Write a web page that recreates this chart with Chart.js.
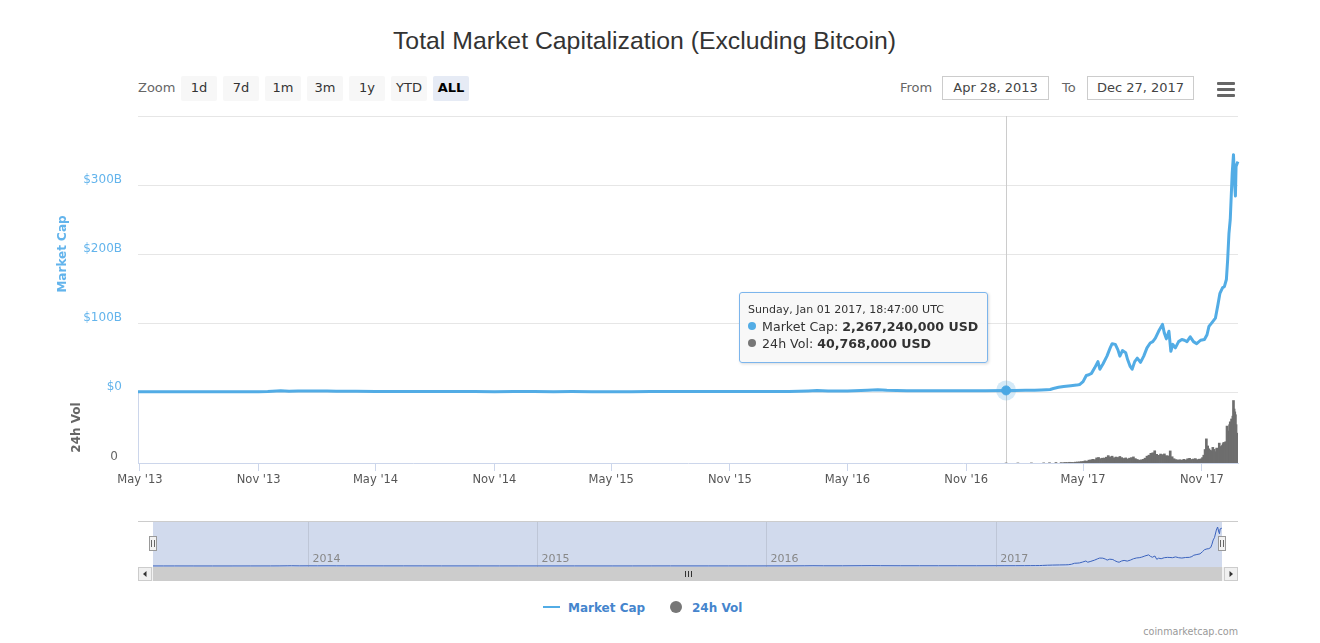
<!DOCTYPE html>
<html>
<head>
<meta charset="utf-8">
<script src="https://cdn.jsdelivr.net/npm/chart.js@4.4.1/dist/chart.umd.min.js"></script>
<style>
html,body{margin:0;padding:0;background:#fff;}
body{width:1320px;height:643px;position:relative;overflow:hidden;font-family:'DejaVu Sans',sans-serif;}
.abs{position:absolute;}
#title{left:0;width:1289px;top:26px;height:30px;line-height:30px;text-align:center;font-family:'Liberation Sans',Arial,sans-serif;font-size:24.8px;color:#333;white-space:nowrap;}
.lbl{top:78px;height:20px;line-height:20px;font-size:13px;color:#666;}
.btn{top:76px;width:36px;height:25px;line-height:24px;text-align:center;font-size:13px;color:#333;background:#f7f7f7;border-radius:2px;}
.btn.sel{background:#e6ebf5;color:#000;font-weight:bold;}
.inp{top:76px;width:105px;height:22px;line-height:22px;border:1px solid #cccccc;text-align:center;font-size:13px;color:#444;}
.bar3{left:1217px;width:18px;height:3px;background:#666;border-radius:1px;}
#tip{display:none;background:rgba(247,247,247,0.9);border:1px solid #7cb5ec;border-radius:3px;padding:9px 9px 10px 8px;box-shadow:1px 1px 3px rgba(0,0,0,0.15);white-space:nowrap;color:#333;}
#tip .th{font-size:11px;line-height:16px;}
#tip .tr{font-size:12.6px;line-height:17px;}
#tip .dot{display:inline-block;width:8px;height:8px;border-radius:50%;margin-right:6px;position:relative;top:-1px;}
.leg{top:598px;height:20px;line-height:20px;font-size:12px;font-weight:bold;color:#4585cd;}
#credit{right:82px;top:626px;font-size:9.6px;color:#999;}
</style>
</head>
<body>
<div id="title" class="abs">Total Market Capitalization (Excluding Bitcoin)</div>

<div class="abs lbl" style="left:138px;">Zoom</div>
<div class="abs btn" style="left:181px;">1d</div>
<div class="abs btn" style="left:223px;">7d</div>
<div class="abs btn" style="left:265px;">1m</div>
<div class="abs btn" style="left:307px;">3m</div>
<div class="abs btn" style="left:349px;">1y</div>
<div class="abs btn" style="left:391px;">YTD</div>
<div class="abs btn sel" style="left:433px;">ALL</div>

<div class="abs lbl" style="left:900px;top:78px;">From</div>
<div class="abs inp" style="left:942px;">Apr 28, 2013</div>
<div class="abs lbl" style="left:1062px;top:78px;">To</div>
<div class="abs inp" style="left:1087px;">Dec 27, 2017</div>
<div class="abs bar3" style="top:82px;"></div>
<div class="abs bar3" style="top:88px;"></div>
<div class="abs bar3" style="top:94px;"></div>

<div class="abs" style="left:0;top:100px;width:1320px;height:400px;"><canvas id="main" width="1320" height="400"></canvas></div>
<div class="abs" style="left:0;top:510px;width:1320px;height:80px;"><canvas id="nav" width="1320" height="80"></canvas></div>

<div id="tip" class="abs"></div>

<div class="abs" style="left:543px;top:606px;width:17px;height:2px;background:#52ace5;"></div>
<div class="abs leg" style="left:568px;">Market Cap</div>
<div class="abs" style="left:670px;top:601px;width:12px;height:12px;border-radius:50%;background:#777;"></div>
<div class="abs leg" style="left:692px;">24h Vol</div>
<div id="credit" class="abs">coinmarketcap.com</div>

<script>
// ---------------- DATA ----------------
const rangeStart = '2013-04-28';
const rangeEnd = '2017-12-27';

// Market cap (excluding Bitcoin), billions USD
const mcDates = [
'2013-04-28','2013-05-15','2013-06-01','2013-07-01','2013-08-01','2013-09-01','2013-10-01','2013-11-01','2013-11-15','2013-11-29','2013-12-05','2013-12-18',
'2014-01-01','2014-01-15','2014-02-01','2014-02-15','2014-03-01','2014-04-01','2014-05-01','2014-06-01','2014-07-01','2014-08-01','2014-09-01','2014-10-01','2014-11-01','2014-12-01',
'2015-01-01','2015-02-01','2015-03-01','2015-04-01','2015-05-01','2015-06-01','2015-07-01','2015-08-01','2015-09-01','2015-10-01','2015-11-01','2015-12-01',
'2016-01-01','2016-02-01','2016-03-01','2016-03-15','2016-04-01','2016-05-01','2016-06-01','2016-06-17','2016-07-01','2016-08-01','2016-09-01','2016-10-01','2016-11-01','2016-12-01',
'2017-01-01T18:47:00Z','2017-01-15','2017-02-01','2017-02-15','2017-02-25','2017-03-05','2017-03-11','2017-03-16','2017-03-24','2017-04-01','2017-04-12','2017-04-21','2017-04-26',
'2017-05-01','2017-05-06','2017-05-10','2017-05-14','2017-05-19','2017-05-24','2017-05-27','2017-06-01','2017-06-07','2017-06-12','2017-06-15','2017-06-20','2017-06-24','2017-06-27',
'2017-07-01','2017-07-06','2017-07-09','2017-07-13','2017-07-16','2017-07-20','2017-07-24','2017-07-29','2017-08-03','2017-08-08','2017-08-13','2017-08-17','2017-08-21','2017-08-26',
'2017-09-01','2017-09-04','2017-09-07','2017-09-11','2017-09-14','2017-09-17','2017-09-21','2017-09-26','2017-10-01','2017-10-05','2017-10-09','2017-10-14','2017-10-19','2017-10-24','2017-10-30',
'2017-11-05','2017-11-09','2017-11-12','2017-11-17','2017-11-22','2017-11-26','2017-11-29','2017-12-03','2017-12-06','2017-12-09','2017-12-11','2017-12-13','2017-12-15','2017-12-18',
'2017-12-20','2017-12-22','2017-12-23','2017-12-24','2017-12-26','2017-12-27'
];
const mcValues = [
0.35,0.32,0.28,0.22,0.20,0.21,0.24,0.40,0.70,1.6,1.9,1.1,
1.4,1.3,1.5,1.3,1.1,0.95,0.85,0.80,0.75,0.65,0.60,0.55,0.50,0.60,
0.65,0.50,0.55,0.50,0.50,0.50,0.60,0.70,0.60,0.55,0.60,0.60,
0.70,0.90,1.6,2.2,1.6,1.5,2.5,3.1,2.5,1.9,1.9,1.8,1.9,1.8,
2.26724,2.3,2.4,2.7,3.0,3.3,3.6,5.0,6.8,8.0,9.2,10,11,
15,24,25,27,35,44,33,41,52,64,70,69,61,52,
60,57,47,37,33,44,49,43,52,64,71,73,78,88,
98,85,77,88,59,69,64,73,76,75,73,80,73,70,75,
76,83,95,101,107,127,143,151,153,163,192,230,250,317,
344,298,284,327,332,334
];

// 24h volume, billions USD
const volDates = [
'2017-01-01T18:47:00Z','2017-01-20','2017-02-10','2017-03-01','2017-03-10','2017-03-20','2017-03-28',
'2017-04-01','2017-04-04','2017-04-07','2017-04-10','2017-04-13','2017-04-16','2017-04-19','2017-04-22','2017-04-25','2017-04-28',
'2017-05-01','2017-05-04','2017-05-07','2017-05-10','2017-05-13','2017-05-16','2017-05-19','2017-05-22','2017-05-25','2017-05-28','2017-05-31',
'2017-06-03','2017-06-06','2017-06-09','2017-06-12','2017-06-15','2017-06-18','2017-06-21','2017-06-24','2017-06-27','2017-06-30',
'2017-07-03','2017-07-06','2017-07-09','2017-07-12','2017-07-15','2017-07-18','2017-07-21','2017-07-24','2017-07-27','2017-07-30',
'2017-08-02','2017-08-05','2017-08-08','2017-08-11','2017-08-14','2017-08-17','2017-08-20','2017-08-23','2017-08-26','2017-08-29',
'2017-09-01','2017-09-04','2017-09-07','2017-09-10','2017-09-13','2017-09-16','2017-09-19','2017-09-22','2017-09-25','2017-09-28',
'2017-10-01','2017-10-04','2017-10-07','2017-10-10','2017-10-13','2017-10-16','2017-10-19','2017-10-22','2017-10-25','2017-10-28','2017-10-31',
'2017-11-02','2017-11-04','2017-11-06','2017-11-08','2017-11-10','2017-11-12','2017-11-14','2017-11-16','2017-11-18','2017-11-20','2017-11-22','2017-11-24','2017-11-26','2017-11-28','2017-11-30',
'2017-12-01','2017-12-02','2017-12-03','2017-12-04','2017-12-05','2017-12-06','2017-12-07','2017-12-08','2017-12-09','2017-12-10','2017-12-11','2017-12-12','2017-12-13','2017-12-14',
'2017-12-15','2017-12-16','2017-12-17','2017-12-18','2017-12-19','2017-12-20','2017-12-21','2017-12-22','2017-12-23','2017-12-24','2017-12-25','2017-12-26','2017-12-27'
];
const volValues = [
0.040768,0.05,0.07,0.10,0.20,0.35,0.30,
0.30,0.40,0.35,0.50,0.45,0.40,0.60,0.70,0.80,1.0,
1.1,1.5,1.3,2.0,2.2,2.6,2.4,3.6,3.9,3.1,3.4,
3.5,4.1,5.2,4.3,4.8,3.7,4.2,3.9,4.6,3.8,
3.2,3.6,2.9,3.4,3.8,4.3,3.1,2.5,2.0,2.2,
2.6,3.4,4.8,5.5,6.8,7.2,8.6,6.1,5.4,6.3,
5.9,6.4,5.2,5.0,8.5,4.4,3.0,2.4,2.1,2.3,
2.0,2.6,2.2,3.0,3.3,2.5,2.8,3.1,2.4,2.7,2.9,
3.8,5.5,9.5,17,12,10,9,8.5,11,9.6,8,10.5,9.8,14,11.5,
10.2,11.8,12.5,13.6,14.5,13.2,12.1,15.0,14.2,26,22,21,22.5,27,
29,25,31,28,33,44,38,36,34,27,21,20,19
];

// Axis ticks
const xTickDates = ['2013-05-01','2013-11-01','2014-05-01','2014-11-01','2015-05-01','2015-11-01','2016-05-01','2016-11-01','2017-05-01','2017-11-01'];
const mcTicks = [0, 100, 200, 300, 400];
const volTicks = [0];
const navTickDates = ['2014-01-01','2015-01-01','2016-01-01','2017-01-01'];
const tooltipDate = '2017-01-01T18:47:00Z';

// ---------------- HELPERS ----------------
const MONTHS = ['Jan','Feb','Mar','Apr','May','Jun','Jul','Aug','Sep','Oct','Nov','Dec'];
const DAYS = ['Sunday','Monday','Tuesday','Wednesday','Thursday','Friday','Saturday'];
const toMs = d => Date.parse(d.length === 10 ? d + 'T00:00:00Z' : d);
const pad2 = n => (n < 10 ? '0' : '') + n;
const groupDigits = n => String(Math.round(n)).replace(/\B(?=(\d{3})+(?!\d))/g, ',');
const fmtFull = ms => { const d = new Date(ms); return DAYS[d.getUTCDay()] + ', ' + MONTHS[d.getUTCMonth()] + ' ' + pad2(d.getUTCDate()) + ' ' + d.getUTCFullYear() + ', ' + pad2(d.getUTCHours()) + ':' + pad2(d.getUTCMinutes()) + ':' + pad2(d.getUTCSeconds()) + ' UTC'; };
const fmtTick = ms => { const d = new Date(ms); return MONTHS[d.getUTCMonth()] + " '" + String(d.getUTCFullYear()).slice(2); };

const mcPoints = mcDates.map((d, i) => ({x: toMs(d), y: mcValues[i]}));
const volPoints = volDates.map((d, i) => ({x: toMs(d), y: volValues[i]}));
const xMin = toMs(rangeStart), xMax = toMs(rangeEnd);

Chart.defaults.font.family = "'DejaVu Sans', sans-serif";
const MC_COLOR = '#52ace5';

// ---------------- MAIN CHART ----------------
const crosshair = {
  id: 'crosshair',
  beforeDatasetsDraw(chart) {
    const act = chart.tooltip.getActiveElements();
    if (!act.length) return;
    const el = chart.getDatasetMeta(act[0].datasetIndex).data[act[0].index];
    const {ctx, chartArea} = chart;
    ctx.save();
    ctx.strokeStyle = '#cccccc';
    ctx.lineWidth = 1;
    const x = Math.round(el.x) + 0.5;
    ctx.beginPath(); ctx.moveTo(x, chartArea.top); ctx.lineTo(x, chartArea.bottom); ctx.stroke();
    ctx.fillStyle = 'rgba(82,172,229,0.25)';
    ctx.beginPath(); ctx.arc(el.x, el.y, 10, 0, Math.PI * 2); ctx.fill();
    ctx.restore();
  }
};

function externalTip(context) {
  const tt = context.tooltip;
  const div = document.getElementById('tip');
  if (!tt || tt.opacity === 0 || !tt.dataPoints || !tt.dataPoints.length) { div.style.display = 'none'; return; }
  const mcP = tt.dataPoints.find(p => p.datasetIndex === 0);
  const vP = tt.dataPoints.find(p => p.datasetIndex === 1);
  let html = '<div class="th">' + fmtFull(mcP.parsed.x) + '</div>';
  html += '<div class="tr"><span class="dot" style="background:' + MC_COLOR + '"></span>Market Cap: <b>' + groupDigits(mcP.parsed.y * 1e9) + ' USD</b></div>';
  if (vP) html += '<div class="tr"><span class="dot" style="background:#777"></span>24h Vol: <b>' + groupDigits(vP.parsed.y * 1e9) + ' USD</b></div>';
  div.innerHTML = html;
  div.style.display = 'block';
  const cv = context.chart.canvas.parentNode;
  const px = mcP.element.x, py = mcP.element.y;
  div.style.left = (cv.offsetLeft + px - 18 - div.offsetWidth) + 'px';
  div.style.top = (cv.offsetTop + py - 27 - div.offsetHeight) + 'px';
}

const main = new Chart(document.getElementById('main'), {
  type: 'line',
  data: {
    datasets: [
      {
        label: 'Market Cap', data: mcPoints, yAxisID: 'y',
        borderColor: MC_COLOR, backgroundColor: MC_COLOR, borderWidth: 3,
        pointRadius: 0, pointHoverRadius: 4.5, pointHoverBackgroundColor: '#4aa8e4',
        pointHoverBorderColor: '#4aa8e4', pointHoverBorderWidth: 1,
        tension: 0, borderJoinStyle: 'round', clip: 6
      },
      {
        type: 'bar', label: '24h Vol', data: volPoints, yAxisID: 'yVol',
        backgroundColor: '#6e6e6e', hoverBackgroundColor: '#6e6e6e', borderWidth: 0,
        barThickness: 2
      }
    ]
  },
  options: {
    responsive: false, animation: false, events: [],
    layout: {padding: {left: 40, right: 82, top: 16, bottom: 7}},
    plugins: {
      legend: {display: false},
      tooltip: {enabled: false, external: externalTip}
    },
    scales: {
      x: {
        type: 'linear', min: xMin, max: xMax, offset: false,
        afterBuildTicks: s => { s.ticks = xTickDates.map(d => ({value: toMs(d)})); },
        afterFit: s => { s.height = 30; s.paddingLeft = 0; s.paddingRight = 0; },
        ticks: {callback: v => fmtTick(v), color: '#555', font: {size: 11.5}, padding: 2, maxRotation: 0, autoSkip: false},
        grid: {drawOnChartArea: false, drawTicks: true, tickLength: 8, color: '#ccd6eb', offset: false},
        border: {display: true, color: '#ccd6eb'}
      },
      yVol: {
        position: 'left', stack: 'panels', stackWeight: 71, min: 0, max: 50,
        afterBuildTicks: s => { s.ticks = volTicks.map(v => ({value: v})); },
        afterFit: s => { s.width = 98; s.paddingTop = 0; s.paddingBottom = 0; },
        ticks: {callback: v => String(v), color: '#666', font: {size: 12}, padding: 20, labelOffset: -6},
        grid: {display: false, drawTicks: false},
        border: {display: true, color: '#ccd6eb'},
        title: {display: true, text: '24h Vol', color: '#666', font: {size: 12, weight: 'bold'}, padding: {top: 29.8, bottom: 0}}
      },
      y: {
        position: 'left', stack: 'panels', stackWeight: 276, min: 0, max: 400,
        afterBuildTicks: s => { s.ticks = mcTicks.map(v => ({value: v})); },
        afterFit: s => { s.width = 98; s.paddingTop = 0; s.paddingBottom = 0; },
        ticks: {callback: v => (v === 400 ? '' : (v === 0 ? '$0' : '$' + v + 'B')), color: '#63b4ec', font: {size: 12}, padding: 16, labelOffset: -5},
        grid: {color: '#e6e6e6', drawTicks: false},
        border: {display: false},
        title: {display: true, text: 'Market Cap', color: '#63b4ec', font: {size: 12, weight: 'bold'}, padding: {top: 15.8, bottom: 0}}
      }
    }
  },
  plugins: [crosshair]
});

const iMc = mcDates.indexOf(tooltipDate);
const iVol = volDates.indexOf(tooltipDate);
const actives = [{datasetIndex: 0, index: iMc}, {datasetIndex: 1, index: iVol}];
const mcEl = main.getDatasetMeta(0).data[iMc];
main.setActiveElements(actives);
main.tooltip.setActiveElements(actives, {x: mcEl.x, y: mcEl.y});
main.update();

// ---------------- NAVIGATOR ----------------
const navDecor = {
  id: 'navDecor',
  beforeDatasetsDraw(chart) {
    const {ctx, chartArea: a} = chart;
    ctx.save();
    ctx.fillStyle = 'rgba(102,133,194,0.3)';
    ctx.fillRect(a.left, a.top, a.right - a.left, a.bottom - a.top);
    ctx.restore();
  },
  afterDraw(chart) {
    const {ctx, chartArea: a} = chart;
    const L = a.left - 15, R = a.right + 16;
    ctx.save();
    ctx.strokeStyle = '#cccccc'; ctx.lineWidth = 1;
    ctx.beginPath(); ctx.moveTo(L, a.top + 0.5); ctx.lineTo(R, a.top + 0.5); ctx.stroke();
    const y0 = a.bottom, h = 14;
    ctx.fillStyle = '#f2f2f2'; ctx.fillRect(L, y0, R - L, h);
    ctx.fillStyle = '#cccccc'; ctx.fillRect(a.left, y0, a.right - a.left, h);
    [[L, -1], [R - 14, 1]].forEach(([bx, dir]) => {
      ctx.fillStyle = '#f0f0f0'; ctx.fillRect(bx, y0, 14, h);
      ctx.strokeStyle = '#cccccc'; ctx.strokeRect(bx + 0.5, y0 + 0.5, 13, h - 1);
      const cx = bx + 7, cy = y0 + 7;
      ctx.fillStyle = '#333';
      ctx.beginPath();
      ctx.moveTo(cx + dir * 2, cy); ctx.lineTo(cx - dir * 1.5, cy - 3); ctx.lineTo(cx - dir * 1.5, cy + 3);
      ctx.closePath(); ctx.fill();
    });
    const gx = Math.round((a.left + a.right) / 2);
    ctx.strokeStyle = '#333';
    [-3, 0, 3].forEach(o => { ctx.beginPath(); ctx.moveTo(gx + o + 0.5, y0 + 4); ctx.lineTo(gx + o + 0.5, y0 + 10); ctx.stroke(); });
    const hy = Math.round(a.top + (a.bottom - a.top) / 2 - 8);
    [a.left, a.right].forEach(hx => {
      hx = Math.round(hx);
      ctx.fillStyle = '#f2f2f2'; ctx.fillRect(hx - 4, hy, 8, 15);
      ctx.strokeStyle = '#999999'; ctx.strokeRect(hx - 3.5, hy + 0.5, 7, 14);
      ctx.strokeStyle = '#666';
      ctx.beginPath(); ctx.moveTo(hx - 1.5, hy + 4); ctx.lineTo(hx - 1.5, hy + 11);
      ctx.moveTo(hx + 1.5, hy + 4); ctx.lineTo(hx + 1.5, hy + 11); ctx.stroke();
    });
    ctx.restore();
  }
};

new Chart(document.getElementById('nav'), {
  type: 'line',
  data: {datasets: [{data: mcPoints, borderColor: '#3a62bd', borderWidth: 1, pointRadius: 0, tension: 0, clip: 2}]},
  options: {
    responsive: false, animation: false, events: [],
    layout: {padding: {left: 153, right: 98, top: 11, bottom: 9}},
    plugins: {legend: {display: false}, tooltip: {enabled: false}},
    scales: {
      x: {
        type: 'linear', min: xMin, max: xMax, offset: false,
        afterBuildTicks: s => { s.ticks = navTickDates.map(d => ({value: toMs(d)})); },
        afterFit: s => { s.height = 14; s.paddingLeft = 0; s.paddingRight = 0; },
        ticks: {callback: v => String(new Date(v).getUTCFullYear()), color: '#888', font: {size: 11}, align: 'start', labelOffset: 4, padding: 1.6, mirror: true, maxRotation: 0, autoSkip: false, z: 1},
        grid: {color: 'rgba(0,0,0,0.09)', drawTicks: false, z: 1, offset: false},
        border: {display: false}
      },
      y: {display: false, min: -9, max: 397}
    }
  },
  plugins: [navDecor]
});
</script>
</body>
</html>
